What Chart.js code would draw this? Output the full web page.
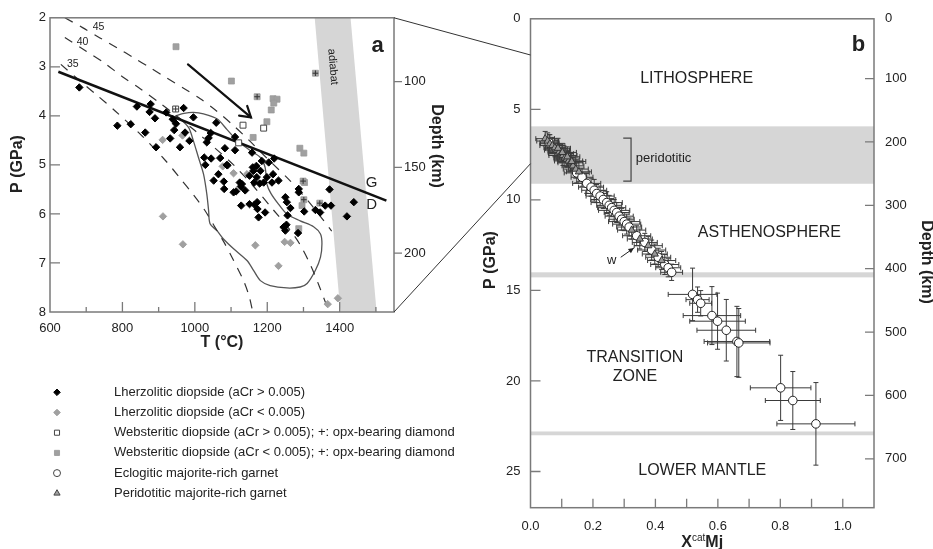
<!DOCTYPE html>
<html>
<head>
<meta charset="utf-8">
<script src="https://cdn.jsdelivr.net/npm/chart.js@4.4.1/dist/chart.umd.min.js"></script>
<style>
  html, body { margin: 0; padding: 0; background: #fff; }
  #wrap { position: relative; width: 933px; height: 549px; overflow: hidden; }
  #ca { position: absolute; left: 0; top: 0; }
  #cb { position: absolute; left: 390px; top: 0; }
</style>
</head>
<body>
<div id="wrap">
  <canvas id="ca" width="470" height="549"></canvas>
  <canvas id="cb" width="543" height="549"></canvas>
</div>
<script>
// ── panel a : diopside P–T (T °C, P GPa) ────────────────
const lherzHigh = [
  [681,3.42],[786,4.20],[823,4.17],[840,3.81],[863,4.34],[878,3.76],[875,3.92],[890,4.05],
  [893,4.64],[921,3.93],[932,4.46],[939,4.07],[943,4.29],[948,4.16],[959,4.64],[969,3.84],
  [973,4.34],[985,4.51],[996,4.03],[1026,4.85],[1033,4.54],[1029,5.00],[1038,4.45],[1044,4.35],
  [1045,4.87],[1059,4.14],[1065,5.19],[1070,4.86],[1052,5.32],[1080,5.34],[1081,5.49],[1083,4.66],
  [1088,5.00],[1090,5.01],[1107,5.56],[1111,4.43],[1111,4.70],[1114,5.54],[1124,5.36],[1127,5.44],
  [1128,5.83],[1130,5.39],[1139,5.52],[1151,5.22],[1151,5.80],[1158,4.75],[1160,5.05],[1162,5.12],
  [1164,5.36],[1165,5.81],[1171,5.25],[1170,5.02],[1172,5.76],[1173,5.90],[1176,6.07],[1179,5.38],
  [1181,5.12],[1185,4.92],[1190,5.36],[1194,5.97],[1199,5.25],[1204,4.95],[1213,5.36],[1216,5.19],
  [1219,4.87],[1231,5.32],[1250,5.66],[1254,5.76],[1256,6.03],[1253,6.22],[1245,6.27],[1250,6.34],
  [1264,5.88],[1285,6.39],[1287,5.49],[1287,5.56],[1302,5.95],[1333,5.92],[1346,5.97],[1360,5.83],
  [1372,5.50],[1376,5.83],[1420,6.05],[1439,5.76]
];
const lherzLow = [
  [911,4.49],[966,4.40],[1077,5.03],[1107,5.17],[1144,5.19],[912,6.05],[967,6.62],
  [1167,6.64],[1231,7.06],[1248,6.57],[1264,6.59],[1367,7.84],[1395,7.72]
];
const webHigh    = [[1133,4.19],[1190,4.25],[1121,4.55]];
const webHighOpx = [[947,3.86]];
const webLow = [
  [948,2.59],[1101,3.29],[1216,3.65],[1227,3.66],[1218,3.74],[1211,3.88],[1199,4.12],
  [1161,4.44],[1290,4.66],[1301,4.76],[1303,5.36],[1296,5.83],[1287,6.30]
];
const webLowOpx = [[1172,3.61],[1333,3.13],[1299,5.33],[1301,5.71],[1345,5.78]];

// geotherms (mW/m²), graphite–diamond line, trend arrow, inclusion field
const geo45 = [[641,2.0],[690,2.2],[738,2.41],[785,2.61],[830,2.81],[877,3.02],[923,3.23],[970,3.44],
  [1015,3.65],[1060,3.9],[1107,4.2],[1150,4.5],[1200,4.87],[1264,5.33],[1320,5.8],[1378,6.35]];
const geo40 = [[641,2.40],[700,2.68],[750,2.92],[800,3.2],[850,3.45],[900,3.72],[950,4.0],[1000,4.3],
  [1050,4.62],[1107,5.0],[1160,5.42],[1217,5.92],[1260,6.3],[1290,6.62],[1320,7.05],[1345,7.5],[1368,7.95]];
const geo35 = [[630,2.95],[680,3.27],[730,3.58],[780,3.9],[853,4.4],[920,4.92],[960,5.28],[995,5.6],
  [1027,5.92],[1054,6.25],[1080,6.57],[1105,6.92],[1135,7.37],[1150,7.68],[1160,8.0]];
const gdLine = [[623,3.10],[1529,5.73]];
const trendArrow = [[981,2.95],[1155,4.03]];
const fieldOutline = [[946,4.0],[970,3.95],[996,3.93],[1024,3.96],[1061,4.06],[1089,4.28],[1116,4.5],
  [1148,4.68],[1181,4.85],[1194,5.05],[1199,5.39],[1210,5.58],[1231,5.80],[1254,6.00],[1291,6.14],
  [1328,6.26],[1347,6.41],[1351,6.61],[1347,6.88],[1333,7.15],[1310,7.42],[1291,7.49],[1254,7.51],
  [1208,7.46],[1181,7.36],[1162,7.15],[1144,6.95],[1107,6.71],[1079,6.51],[1061,6.34],[1042,6.20],
  [1038,5.93],[1033,5.59],[1024,5.19],[1010,4.85],[996,4.51],[983,4.24],[962,4.08],[946,4.0]];
const adiabatLeft  = [[1331,2],[1402,8]];
const adiabatRight = [[1430,2],[1502,8]];

const tempTicks   = [600,700,800,900,1000,1100,1200,1300,1400,1500];
const pressTicksA = [2,3,4,5,6,7,8];
const depthTicksA = [100,150,200];
const depthTickPA = [3.30,5.05,6.80];

// ── panel b : majorite garnet  [XMj, P, ±XMj, ±P] ───────
const eclogitic = [
  [0.060,6.85,0.030,0.45],[0.148,8.51,0.040,0.55],
  [0.165,8.75,0.035,0.50],[0.180,9.09,0.045,0.55],[0.194,9.30,0.040,0.50],[0.204,9.47,0.040,0.60],
  [0.212,9.65,0.035,0.50],[0.223,9.79,0.045,0.55],[0.233,9.98,0.040,0.50],[0.244,10.15,0.050,0.60],
  [0.252,10.30,0.040,0.55],[0.260,10.43,0.045,0.50],[0.268,10.58,0.050,0.60],[0.276,10.70,0.040,0.55],
  [0.284,10.90,0.045,0.50],[0.292,11.07,0.040,0.60],[0.300,11.20,0.050,0.50],[0.308,11.34,0.045,0.55],
  [0.316,11.50,0.040,0.50],[0.340,11.98,0.045,0.55],[0.366,12.35,0.040,0.50],[0.388,12.77,0.045,0.55],
  [0.409,13.17,0.040,0.50],[0.430,13.57,0.045,0.55],[0.441,13.75,0.040,0.50],[0.452,14.00,0.035,0.45],
  [0.519,15.22,0.078,1.45],[0.535,15.51,0.037,0.70],[0.545,15.71,0.035,0.70],[0.581,16.39,0.092,1.60],
  [0.599,16.70,0.089,1.55],[0.627,17.20,0.094,1.70],[0.661,17.82,0.105,1.94],[0.667,17.90,0.100,1.90],
  [0.801,20.38,0.097,1.80],[0.840,21.08,0.088,1.60],[0.914,22.37,0.125,2.28]
];
const peridotitic = [
  [0.047,6.62,0.030,0.40],[0.055,6.75,0.035,0.45],[0.062,6.90,0.030,0.50],[0.070,7.00,0.040,0.45],
  [0.078,7.12,0.035,0.50],[0.085,7.25,0.040,0.55],[0.092,7.35,0.035,0.45],[0.098,7.45,0.040,0.50],
  [0.104,7.55,0.045,0.55],[0.110,7.68,0.035,0.50],[0.116,7.75,0.040,0.45],[0.122,7.85,0.045,0.55],
  [0.128,7.95,0.040,0.50],[0.136,8.12,0.035,0.45],[0.145,8.30,0.040,0.50],[0.088,7.15,0.040,0.55],
  [0.102,7.38,0.045,0.50],[0.118,7.62,0.040,0.55],[0.132,7.88,0.045,0.50],[0.155,8.45,0.040,0.55],
  [0.324,11.67,0.045,0.50],[0.350,12.16,0.040,0.55],[0.377,12.53,0.045,0.50],[0.398,12.99,0.040,0.55],
  [0.420,13.35,0.045,0.50]
];
const mantleBands = [[5.94,9.11],[14.0,14.28],[22.79,23.0]];
const xmjTicks    = [0,0.1,0.2,0.3,0.4,0.5,0.6,0.7,0.8,0.9,1.0];
const pressTicksB = [0,5,10,15,20,25];
const depthTicksB = [0,100,200,300,400,500,600,700];
const depthTickPB = [0,3.3,6.8,10.3,13.8,17.3,20.8,24.3];
const periBracket = [[0.322,6.59],[0.322,8.96]];
const wArrow      = [[0.289,13.17],[0.331,12.66]];

// ── styles ──────────────────────────────────────────────
const FONT  = "'Liberation Sans', Arial, sans-serif";
const INK   = "#222";
const FRAME = "#7a7a7a";
const GREY  = "#a0a0a0";
const BAND  = "#d6d6d6";

const xy = (pairs) => pairs.map(([x, y]) => ({ x, y }));
const fixTicks = (vals) => (s) => { s.ticks = vals.map((v) => ({ value: v })); };
const tickFont = { family: FONT, size: 13 };

function pt(ch, x, y, ys = "y") {
  return [ch.scales.x.getPixelForValue(x), ch.scales[ys].getPixelForValue(y)];
}

function text(ctx, str, x, y, font, align = "center", rot = 0) {
  ctx.save();
  ctx.translate(x, y);
  ctx.rotate(rot);
  ctx.font = font;
  ctx.fillStyle = INK;
  ctx.textAlign = align;
  ctx.textBaseline = "middle";
  ctx.fillText(str, 0, 0);
  ctx.restore();
}

// inward / outward tick marks along the frame
function drawTicks(ch, id, side, len, minorLen) {
  const s = ch.scales[id], a = ch.chartArea, ctx = ch.ctx;
  ctx.save();
  ctx.strokeStyle = FRAME;
  ctx.lineWidth = 1.3;
  ctx.beginPath();
  s.ticks.forEach((t) => {
    if (Math.abs(t.value - s.min) < 1e-6 || Math.abs(t.value - s.max) < 1e-6) return;
    const p = s.getPixelForValue(t.value);
    const l = minorLen && t.label === "" ? minorLen : len;
    if (side === "left")     { ctx.moveTo(a.left, p);   ctx.lineTo(a.left + l, p); }
    if (side === "bottom")   { ctx.moveTo(p, a.bottom); ctx.lineTo(p, a.bottom - l); }
    if (side === "rightIn")  { ctx.moveTo(a.right, p);  ctx.lineTo(a.right - l, p); }
    if (side === "rightOut") { ctx.moveTo(a.right, p);  ctx.lineTo(a.right + l, p); }
  });
  ctx.stroke();
  ctx.restore();
}

function drawFrame(ch) {
  const a = ch.chartArea, ctx = ch.ctx;
  ctx.save();
  ctx.strokeStyle = FRAME;
  ctx.lineWidth = 1.5;
  ctx.strokeRect(a.left, a.top, a.right - a.left, a.bottom - a.top);
  ctx.restore();
}

function arrowHead(ctx, x0, y0, x1, y1, len, spread, filled) {
  const ang = Math.atan2(y1 - y0, x1 - x0);
  ctx.beginPath();
  ctx.moveTo(x1 - len * Math.cos(ang - spread), y1 - len * Math.sin(ang - spread));
  ctx.lineTo(x1, y1);
  ctx.lineTo(x1 - len * Math.cos(ang + spread), y1 - len * Math.sin(ang + spread));
  if (filled) { ctx.closePath(); ctx.fill(); } else ctx.stroke();
}

// ── legend rows (panel a) ───────────────────────────────
const legendRows = [
  { text: "Lherzolitic diopside (aCr > 0.005)", style: "rectRot", fill: "#000", stroke: "#000", r: 3.3 },
  { text: "Lherzolitic diopside (aCr < 0.005)", style: "rectRot", fill: GREY, stroke: GREY, r: 3.3 },
  { text: "Websteritic diopside (aCr > 0.005); +: opx-bearing diamond", style: "rect", fill: "#fff", stroke: "#444", r: 3.6 },
  { text: "Websteritic diopside (aCr < 0.005); +: opx-bearing diamond", style: "rect", fill: GREY, stroke: GREY, r: 3.6 },
  { text: "Eclogitic majorite-rich garnet", style: "circle", fill: "#fff", stroke: "#444", r: 3.5 },
  { text: "Peridotitic majorite-rich garnet", style: "triangle", fill: GREY, stroke: "#444", r: 3.6 },
];

// ── panel a plugin ──────────────────────────────────────
const panelA = {
  id: "panelA",
  beforeDatasetsDraw(ch) {
    const a = ch.chartArea, ctx = ch.ctx;
    ctx.save();
    ctx.beginPath();
    ctx.rect(a.left, a.top, a.right - a.left, a.bottom - a.top);
    ctx.clip();
    ctx.fillStyle = BAND;
    ctx.beginPath();
    const poly = [adiabatLeft[0], adiabatLeft[1], adiabatRight[1], adiabatRight[0]];
    poly.forEach(([t, p], i) => {
      const [x, y] = pt(ch, t, p);
      i ? ctx.lineTo(x, y) : ctx.moveTo(x, y);
    });
    ctx.closePath();
    ctx.fill();
    ctx.restore();
    const [ax, ay] = pt(ch, 1381, 3.0);
    text(ch.ctx, "adiabat", ax, ay, `11px ${FONT}`, "center", Math.atan2(295, 26));
  },
  afterDatasetsDraw(ch) {
    const ctx = ch.ctx;
    // trend arrow
    const [x0, y0] = pt(ch, ...trendArrow[0]);
    const [x1, y1] = pt(ch, ...trendArrow[1]);
    ctx.save();
    ctx.strokeStyle = "#111";
    ctx.lineWidth = 2.2;
    ctx.lineCap = "round";
    ctx.beginPath();
    ctx.moveTo(x0, y0);
    ctx.lineTo(x1, y1);
    ctx.stroke();
    arrowHead(ctx, x0, y0, x1, y1, 12, 0.55, false);
    ctx.restore();

    const small = `10.5px ${FONT}`;
    text(ctx, "45", ...pt(ch, 734, 2.20), small);
    text(ctx, "40", ...pt(ch, 690, 2.49), small);
    text(ctx, "35", ...pt(ch, 663, 2.95), small);
    text(ctx, "G", ...pt(ch, 1488, 5.37), `15px ${FONT}`);
    text(ctx, "D", ...pt(ch, 1488, 5.81), `15px ${FONT}`);
    text(ctx, "a", ...pt(ch, 1505, 2.58), `bold 22px ${FONT}`);
  },
  afterDraw(ch) {
    const a = ch.chartArea, ctx = ch.ctx;
    drawFrame(ch);
    drawTicks(ch, "y", "left", 10);
    drawTicks(ch, "x", "bottom", 10, 5);
    drawTicks(ch, "yd", "rightOut", 8);

    const bold = `bold 16px ${FONT}`;
    text(ctx, "P (GPa)", 17.5, 164, bold, "center", -Math.PI / 2);
    text(ctx, "T (°C)", (a.left + a.right) / 2, a.bottom + 31, bold);
    text(ctx, "Depth (km)", a.right + 42, 146, bold, "center", Math.PI / 2);

    // legend
    ctx.save();
    legendRows.forEach((row, i) => {
      const y = 392.3 + i * 20.2;
      ctx.fillStyle = row.fill;
      ctx.strokeStyle = row.stroke;
      ctx.lineWidth = 1;
      Chart.helpers.drawPoint(ctx, { pointStyle: row.style, radius: row.r, borderWidth: 1, rotation: 0 }, 57, y);
      text(ctx, row.text, 114, y, `13px ${FONT}`, "left");
    });
    ctx.restore();
  },
};

const lineDs = (pairs, extra) => Object.assign({
  data: xy(pairs), showLine: true, pointRadius: 0, fill: false,
  borderColor: "#333", borderWidth: 1.2, order: 10,
}, extra);

const chartA = new Chart(document.getElementById("ca"), {
  type: "scatter",
  plugins: [panelA],
  data: {
    datasets: [
      { data: xy(webHighOpx.concat(webLowOpx)), pointStyle: "cross", pointRadius: 2.8,
        borderColor: "#333", borderWidth: 1, order: 0 },
      { data: xy(lherzHigh), pointStyle: "rectRot", pointRadius: 3.7,
        backgroundColor: "#000", borderColor: "#000", borderWidth: 1, order: 1 },
      { data: xy(lherzLow), pointStyle: "rectRot", pointRadius: 3.7,
        backgroundColor: GREY, borderColor: GREY, borderWidth: 1, order: 2 },
      { data: xy(webHigh.concat(webHighOpx)), pointStyle: "rect", pointRadius: 4.2,
        backgroundColor: "#fff", borderColor: "#444", borderWidth: 1, order: 1 },
      { data: xy(webLow.concat(webLowOpx)), pointStyle: "rect", pointRadius: 4.2,
        backgroundColor: GREY, borderColor: "#999", borderWidth: 0.8, order: 1 },
      lineDs(gdLine, { borderColor: "#111", borderWidth: 2.5, order: 3 }),
      lineDs(geo45, { borderDash: [9, 8], tension: 0.3 }),
      lineDs(geo40, { borderDash: [9, 8], tension: 0.3 }),
      lineDs(geo35, { borderDash: [9, 8], tension: 0.3 }),
      lineDs(fieldOutline, { borderColor: "#555", borderWidth: 1.3, tension: 0.3 }),
    ],
  },
  options: {
    responsive: false,
    animation: false,
    events: [],
    layout: { padding: { top: 17, left: 0, right: 0, bottom: 0 } },
    plugins: { legend: { display: false }, tooltip: { enabled: false } },
    scales: {
      x: {
        type: "linear", min: 600, max: 1550,
        grid: { display: false, drawTicks: false }, border: { display: false },
        afterBuildTicks: fixTicks(tempTicks),
        afterFit: (s) => { s.height = 237; },
        ticks: { font: tickFont, color: INK, padding: 9, autoSkip: false, maxRotation: 0,
                 callback: (v) => (v % 200 === 0 ? String(v) : "") },
      },
      y: {
        type: "linear", position: "left", min: 2, max: 8, reverse: true,
        grid: { display: false, drawTicks: false }, border: { display: false },
        afterBuildTicks: fixTicks(pressTicksA),
        afterFit: (s) => { s.width = 50; },
        ticks: { font: tickFont, color: INK, padding: 4, autoSkip: false },
      },
      yd: {
        type: "linear", position: "right", min: 2, max: 8, reverse: true,
        grid: { display: false, drawTicks: false }, border: { display: false },
        afterBuildTicks: fixTicks(depthTickPA),
        afterFit: (s) => { s.width = 76; },
        ticks: { font: tickFont, color: INK, padding: 10, autoSkip: false,
                 callback: (v, i) => String(depthTicksA[i]) },
      },
    },
  },
});

// ── panel b plugin ──────────────────────────────────────
const panelB = {
  id: "panelB",
  beforeDatasetsDraw(ch) {
    const a = ch.chartArea, ctx = ch.ctx, ys = ch.scales.y;
    ctx.save();
    ctx.fillStyle = BAND;
    mantleBands.forEach(([p0, p1]) => {
      const y0 = ys.getPixelForValue(p0), y1 = ys.getPixelForValue(p1);
      ctx.fillRect(a.left, y0, a.right - a.left, y1 - y0);
    });
    // error bars
    ctx.strokeStyle = "#3a3a3a";
    ctx.lineWidth = 1;
    ctx.beginPath();
    ch.data.datasets.forEach((ds) => {
      (ds.errors || []).forEach(([x, p, ex, ep]) => {
        const [xl, yc] = pt(ch, x - ex, p), [xr] = pt(ch, x + ex, p);
        const [xc, yt] = pt(ch, x, p - ep), [, yb] = pt(ch, x, p + ep);
        ctx.moveTo(xl, yc); ctx.lineTo(xr, yc);
        ctx.moveTo(xl, yc - 2.5); ctx.lineTo(xl, yc + 2.5);
        ctx.moveTo(xr, yc - 2.5); ctx.lineTo(xr, yc + 2.5);
        ctx.moveTo(xc, yt); ctx.lineTo(xc, yb);
        ctx.moveTo(xc - 2.5, yt); ctx.lineTo(xc + 2.5, yt);
        ctx.moveTo(xc - 2.5, yb); ctx.lineTo(xc + 2.5, yb);
      });
    });
    ctx.stroke();
    ctx.restore();
  },
  afterDatasetsDraw(ch) {
    const ctx = ch.ctx;
    const big = `16px ${FONT}`;
    text(ctx, "LITHOSPHERE", ...pt(ch, 0.532, 3.29), big);
    text(ctx, "ASTHENOSPHERE", ...pt(ch, 0.765, 11.83), big);
    text(ctx, "TRANSITION", ...pt(ch, 0.3345, 18.69), big);
    text(ctx, "ZONE", ...pt(ch, 0.3345, 19.76), big);
    text(ctx, "LOWER MANTLE", ...pt(ch, 0.550, 24.97), big);
    text(ctx, "b", ...pt(ch, 1.05, 1.46), `bold 22px ${FONT}`);

    // peridotitic bracket
    const [bx, by0] = pt(ch, ...periBracket[0]);
    const [, by1] = pt(ch, ...periBracket[1]);
    const [tx] = pt(ch, 0.297, 0);
    ctx.save();
    ctx.strokeStyle = "#444";
    ctx.lineWidth = 1.2;
    ctx.beginPath();
    ctx.moveTo(tx, by0); ctx.lineTo(bx, by0); ctx.lineTo(bx, by1); ctx.lineTo(tx, by1);
    ctx.stroke();
    text(ctx, "peridotitic", ...pt(ch, 0.337, 7.70), `13px ${FONT}`, "left");

    // w arrow
    const [w0x, w0y] = pt(ch, ...wArrow[0]);
    const [w1x, w1y] = pt(ch, ...wArrow[1]);
    ctx.strokeStyle = "#222";
    ctx.fillStyle = "#222";
    ctx.lineWidth = 1;
    ctx.beginPath();
    ctx.moveTo(w0x, w0y); ctx.lineTo(w1x, w1y);
    ctx.stroke();
    arrowHead(ctx, w0x, w0y, w1x, w1y, 6, 0.45, true);
    ctx.restore();
    text(ctx, "w", ...pt(ch, 0.260, 13.35), `13px ${FONT}`);
  },
  afterDraw(ch) {
    const a = ch.chartArea, ctx = ch.ctx;
    drawFrame(ch);
    drawTicks(ch, "y", "left", 10);
    drawTicks(ch, "x", "bottom", 9);
    drawTicks(ch, "yd", "rightIn", 9);

    // zoom lines from panel a's frame to its P range on panel b
    const off = ch.canvas.offsetLeft - chartA.canvas.offsetLeft;
    const aa = chartA.chartArea;
    ctx.save();
    ctx.strokeStyle = "#333";
    ctx.lineWidth = 1;
    ctx.beginPath();
    ctx.moveTo(aa.right - off, aa.top);
    ctx.lineTo(a.left, ch.scales.y.getPixelForValue(chartA.scales.y.min));
    ctx.moveTo(aa.right - off, aa.bottom);
    ctx.lineTo(a.left, ch.scales.y.getPixelForValue(chartA.scales.y.max));
    ctx.stroke();
    ctx.restore();

    const bold = `bold 16px ${FONT}`;
    text(ctx, "P (GPa)", a.left - 40, 260, bold, "center", -Math.PI / 2);
    text(ctx, "Depth (km)", a.right + 52, 262, bold, "center", Math.PI / 2);

    // X^cat Mj
    ctx.save();
    const cx = (a.left + a.right) / 2, base = 547;
    ctx.font = bold;
    const wX = ctx.measureText("X").width, wM = ctx.measureText("Mj").width;
    ctx.font = `10px ${FONT}`;
    const wC = ctx.measureText("cat").width;
    let x = cx - (wX + wC + wM) / 2;
    ctx.fillStyle = INK;
    ctx.textBaseline = "alphabetic";
    ctx.font = bold; ctx.fillText("X", x, base); x += wX;
    ctx.font = `10px ${FONT}`; ctx.fillText("cat", x, base - 6); x += wC;
    ctx.font = bold; ctx.fillText("Mj", x, base);
    ctx.restore();
  },
};

new Chart(document.getElementById("cb"), {
  type: "scatter",
  plugins: [panelB],
  data: {
    datasets: [
      { data: xy(peridotitic), errors: peridotitic, pointStyle: "triangle", pointRadius: 4.2,
        backgroundColor: "#999", borderColor: "#333", borderWidth: 1, order: 1 },
      { data: xy(eclogitic), errors: eclogitic, pointStyle: "circle", pointRadius: 4.3,
        backgroundColor: "#fff", borderColor: "#222", borderWidth: 1, order: 2 },
    ],
  },
  options: {
    responsive: false,
    animation: false,
    events: [],
    layout: { padding: { top: 16.7, left: 0, right: 0, bottom: 0 } },
    plugins: { legend: { display: false }, tooltip: { enabled: false } },
    scales: {
      x: {
        type: "linear", min: 0, max: 1.1,
        grid: { display: false, drawTicks: false }, border: { display: false },
        afterBuildTicks: fixTicks(xmjTicks),
        afterFit: (s) => { s.height = 41.3; },
        ticks: { font: tickFont, color: INK, padding: 11, autoSkip: false, maxRotation: 0,
                 callback: (v, i) => (i % 2 === 0 ? v.toFixed(1) : "") },
      },
      y: {
        type: "linear", position: "left", min: 0, max: 27, reverse: true,
        grid: { display: false, drawTicks: false }, border: { display: false },
        afterBuildTicks: fixTicks(pressTicksB),
        afterFit: (s) => { s.width = 140.5; },
        ticks: { font: tickFont, color: INK, padding: 10, autoSkip: false },
      },
      yd: {
        type: "linear", position: "right", min: 0, max: 27, reverse: true,
        grid: { display: false, drawTicks: false }, border: { display: false },
        afterBuildTicks: fixTicks(depthTickPB),
        afterFit: (s) => { s.width = 59; },
        ticks: { font: tickFont, color: INK, padding: 11, autoSkip: false,
                 callback: (v, i) => String(depthTicksB[i]) },
      },
    },
  },
});
</script>
</body>
</html>
